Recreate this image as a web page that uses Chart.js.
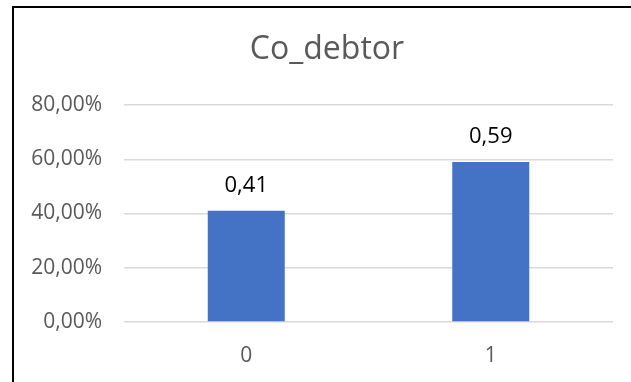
<!DOCTYPE html>
<html>
<head>
<meta charset="utf-8">
<script src="https://cdn.jsdelivr.net/npm/chart.js@4.4.1/dist/chart.umd.min.js"></script>
<style>
  html, body { margin: 0; padding: 0; background: #fff; overflow: hidden; }
  #wrap { position: relative; width: 631px; height: 382px; }
  #frame { position: absolute; left: 12px; top: 6px; width: 700px; height: 500px; border: 2px solid #000; box-sizing: border-box; pointer-events: none; }
  #chart { position: absolute; left: 0; top: 0; }
</style>
</head>
<body>
<div id="wrap">
  <canvas id="chart" width="631" height="382"></canvas>
  <div id="frame"></div>
</div>
<script>
const categories = ['0', '1'];
const shares = [0.41, 0.59];
const tickValues = [0, 0.2, 0.4, 0.6, 0.8];
const titulo = 'Co_debtor';

const FONT = '"Open Sans", "Noto Sans", sans-serif';

function fmtPct(v) {
    return (v * 100).toFixed(2).replace('.', ',') + '%';
}

// titulo centrado sobre el marco, no sobre el canvas
const tituloPlugin = {
    id: 'tituloPlugin',
    afterDraw(chart) {
        const ctx = chart.ctx;
        ctx.save();
        ctx.fillStyle = '#595959';
        ctx.font = '32px ' + FONT;
        ctx.textAlign = 'center';
        ctx.textBaseline = 'middle';
        ctx.fillText(titulo, 327, 50);
        ctx.restore();
    }
};

// etiquetas encima de cada barra
const etiquetas = {
    id: 'etiquetas',
    afterDatasetsDraw(chart) {
        const ctx = chart.ctx;
        const meta = chart.getDatasetMeta(0);
        ctx.save();
        ctx.fillStyle = '#000';
        ctx.font = '22px ' + FONT;
        ctx.textAlign = 'center';
        ctx.textBaseline = 'bottom';
        meta.data.forEach((bar, i) => {
            ctx.fillText(shares[i].toFixed(2).replace('.', ','), bar.x, bar.y - 14);
        });
        ctx.restore();
    }
};

const ctx = document.getElementById('chart').getContext('2d');
new Chart(ctx, {
    type: 'bar',
    data: {
        labels: categories,
        datasets: [{
            data: shares,
            backgroundColor: '#4472C4',
            categoryPercentage: 1,
            barPercentage: 0.315
        }]
    },
    options: {
        responsive: false,
        animation: false,
        layout: { padding: { left: 0, right: 18, top: 105, bottom: 0 } },
        plugins: {
            legend: { display: false },
            tooltip: { enabled: false },
            title: { display: false }
        },
        scales: {
            x: {
                afterFit: scale => { scale.height = 60; },
                grid: { display: false },
                border: { display: false },
                ticks: { color: '#595959', font: { family: FONT, size: 21 }, padding: 13 }
            },
            y: {
                min: tickValues[0],
                max: tickValues[tickValues.length - 1],
                afterFit: scale => { scale.width = 124; },
                grid: { color: '#d9d9d9', lineWidth: 1.5, drawTicks: false },
                border: { display: false },
                ticks: {
                    stepSize: tickValues[1] - tickValues[0],
                    color: '#595959',
                    font: { family: FONT, size: 21 },
                    padding: 22,
                    callback: v => fmtPct(v)
                }
            }
        }
    },
    plugins: [etiquetas, tituloPlugin]
});
</script>
</body>
</html>
